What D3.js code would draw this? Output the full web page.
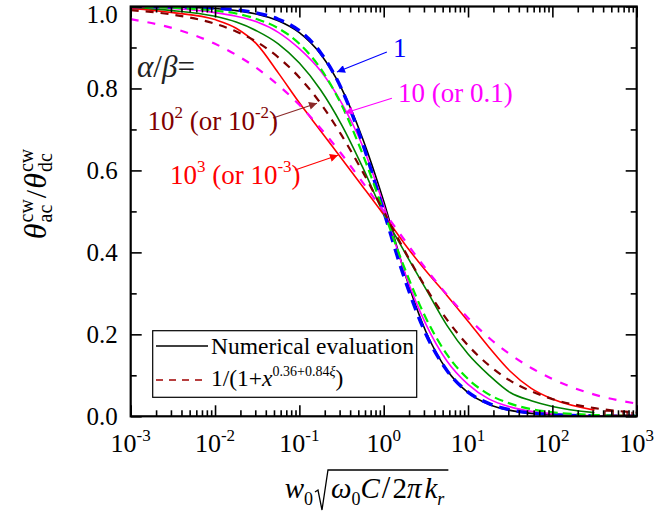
<!DOCTYPE html>
<html>
<head>
<meta charset="utf-8">
<script src="https://cdn.jsdelivr.net/npm/d3@7"></script>
<style>
  body { margin: 0; background: #fff; }
  text { font-family: "Liberation Serif", "Times New Roman", serif; }
</style>
</head>
<body>
<svg id="chart" width="655" height="522"></svg>
<script>
// Abscissa samples: w0*sqrt(w0*C/(2*pi*kr))
const xValues = [0.001, 0.00316, 0.01, 0.0178, 0.0316, 0.0562, 0.1, 0.178, 0.316, 0.562,
                 1, 1.78, 3.16, 5.62, 10, 17.8, 31.6, 56.2, 100, 316, 1000];

// Numerical evaluation (solid lines), one per alpha/beta ratio
const numRatio1    = [0.9996, 0.9986, 0.995, 0.990, 0.981, 0.965, 0.936, 0.884, 0.800, 0.678,
                      0.525, 0.349, 0.207, 0.113, 0.058, 0.029, 0.0145, 0.0071, 0.0035, 0.0008, 0.0002];
const numRatio10   = [0.998, 0.995, 0.985, 0.976, 0.962, 0.937, 0.897, 0.843, 0.765, 0.660,
                      0.515, 0.350, 0.225, 0.135, 0.078, 0.042, 0.023, 0.012, 0.006, 0.0015, 0.0004];
const numRatio100  = [0.996, 0.990, 0.976, 0.962, 0.940, 0.909, 0.862, 0.797, 0.712, 0.608,
                      0.494, 0.400, 0.311, 0.222, 0.152, 0.100, 0.058, 0.038, 0.024, 0.009, null];
const numRatio1000 = [0.995, 0.985, 0.968, 0.947, 0.907, 0.838, 0.765, 0.697, 0.629, 0.561,
                      0.492, 0.420, 0.355, 0.295, 0.232, 0.168, 0.110, 0.068, 0.042, 0.015, null];

// Fitted curves 1/(1+x^(0.36+0.84*xi)) (dashed lines)
const fitRatio1    = [0.9998, 0.999, 0.996, 0.992, 0.984, 0.969, 0.941, 0.888, 0.799, 0.666,
                      0.500, 0.334, 0.201, 0.112, 0.059, 0.031, 0.0156, 0.0079, 0.004, 0.001, 0.0002];
const fitRatio10   = [0.999, 0.997, 0.990, 0.983, 0.969, 0.947, 0.909, 0.849, 0.760, 0.640,
                      0.500, 0.360, 0.240, 0.151, 0.091, 0.053, 0.031, 0.0175, 0.0099, 0.0032, 0.001];
const fitRatio100  = [0.991, 0.980, 0.958, 0.939, 0.913, 0.876, 0.827, 0.764, 0.686, 0.597,
                      0.500, 0.403, 0.314, 0.236, 0.173, 0.124, 0.087, 0.061, 0.042, 0.020, 0.0091];
const fitRatio1000 = [0.969, 0.947, 0.909, 0.882, 0.849, 0.808, 0.760, 0.703, 0.640, 0.571,
                      0.500, 0.429, 0.360, 0.297, 0.240, 0.191, 0.151, 0.118, 0.091, 0.053, 0.031];

// Numerical noise of the 10^2 evaluation close to zero
const noiseX = [420, 420, 525, 525, 690, 690, 690, 770, 770, 770, 880, 880];
const noiseY = [0.002, 0.013, 0.013, 0.002, 0.002, 0.011, 0.002, 0.002, 0.011, 0.002, 0.002, 0.011];

// Axis ticks
const xTickExponents = [-3, -2, -1, 0, 1, 2, 3];
const yTickValues = [0, 0.2, 0.4, 0.6, 0.8, 1.0];
const yTickLabels = ["0.0", "0.2", "0.4", "0.6", "0.8", "1.0"];
const yMinorValues = [0.1, 0.3, 0.5, 0.7, 0.9];

// Legend entries
const legendLabels = ["Numerical evaluation", "1/(1+x^(0.36+0.84ξ))"];

const svg = d3.select("#chart");
const plot = { left: 130.7, right: 636.7, top: 6.5, bottom: 416.3 };

const x = d3.scaleLog().domain([1e-3, 1e3]).range([plot.left, plot.right]);
const y = d3.scaleLinear().domain([0, 1]).range([plot.bottom, plot.top]);

svg.append("defs").append("clipPath").attr("id", "plotClip")
  .append("rect")
  .attr("x", plot.left).attr("y", plot.top)
  .attr("width", plot.right - plot.left).attr("height", plot.bottom - plot.top);

// ---------- curves ----------
const line = d3.line()
  .defined(d => d[1] != null)
  .x(d => x(d[0]))
  .y(d => y(d[1]))
  .curve(d3.curveMonotoneX);

const series = [
  { values: numRatio1,    color: "#000000", width: 1.6, dash: null },
  { values: numRatio10,   color: "#ff00ff", width: 1.6, dash: null },
  { values: numRatio100,  color: "#008000", width: 1.6, dash: null },
  { values: numRatio1000, color: "#ff0000", width: 1.6, dash: null },
  { values: fitRatio1,    color: "#0000ff", width: 3.4, dash: "11,7" },
  { values: fitRatio10,   color: "#00ee00", width: 2.2, dash: "9,5" },
  { values: fitRatio100,  color: "#800000", width: 2.2, dash: "8,7" },
  { values: fitRatio1000, color: "#ff00ff", width: 2.2, dash: "8,9" }
];

const curves = svg.append("g").attr("clip-path", "url(#plotClip)");
series.forEach(s => {
  curves.append("path")
    .datum(xValues.map((xv, i) => [xv, s.values[i]]))
    .attr("fill", "none")
    .attr("stroke", s.color)
    .attr("stroke-width", s.width)
    .attr("stroke-dasharray", s.dash)
    .attr("d", line);
});

curves.append("path")
  .datum(noiseX.map((xv, i) => [xv, noiseY[i]]))
  .attr("fill", "none")
  .attr("stroke", "#800000")
  .attr("stroke-width", 1.4)
  .attr("d", d3.line().x(d => x(d[0])).y(d => y(d[1])));

// ---------- axes ----------
const xMajor = xTickExponents.map(e => Math.pow(10, e));
const xMinor = [];
for (let e = -3; e < 3; e++) for (let k = 2; k <= 9; k++) xMinor.push(k * Math.pow(10, e));

function tickGroup(axis, tx, ty) {
  svg.append("g")
    .attr("transform", `translate(${tx},${ty})`)
    .call(axis)
    .call(g => g.select(".domain").remove())
    .call(g => g.selectAll("line").attr("stroke", "#000").attr("stroke-width", 1.6))
    .call(g => g.selectAll("text").remove());
}
tickGroup(d3.axisBottom(x).tickValues(xMajor).tickSize(-11), 0, plot.bottom);
tickGroup(d3.axisBottom(x).tickValues(xMinor).tickSize(-6), 0, plot.bottom);
tickGroup(d3.axisTop(x).tickValues(xMajor).tickSize(-11), 0, plot.top);
tickGroup(d3.axisTop(x).tickValues(xMinor).tickSize(-6), 0, plot.top);
tickGroup(d3.axisLeft(y).tickValues(yTickValues).tickSize(-11), plot.left, 0);
tickGroup(d3.axisLeft(y).tickValues(yMinorValues).tickSize(-6), plot.left, 0);
tickGroup(d3.axisRight(y).tickValues(yTickValues).tickSize(-11), plot.right, 0);
tickGroup(d3.axisRight(y).tickValues(yMinorValues).tickSize(-6), plot.right, 0);

svg.append("rect")
  .attr("x", plot.left).attr("y", plot.top)
  .attr("width", plot.right - plot.left).attr("height", plot.bottom - plot.top)
  .attr("fill", "none").attr("stroke", "#000").attr("stroke-width", 2.2);

// y tick labels (top one kept inside the canvas)
svg.append("g").selectAll("text")
  .data(yTickValues)
  .join("text")
  .attr("x", plot.left - 13)
  .attr("y", d => Math.max(y(d), 14))
  .attr("dy", "0.36em")
  .attr("text-anchor", "end")
  .attr("font-size", 25)
  .text((d, i) => yTickLabels[i]);

// x tick labels: 10^e
const xLab = svg.append("g").selectAll("text")
  .data(xTickExponents)
  .join("text")
  .attr("x", e => x(Math.pow(10, e)))
  .attr("y", 452)
  .attr("text-anchor", "middle")
  .attr("font-size", 26);
xLab.append("tspan").text("10");
xLab.append("tspan").attr("font-size", 17).attr("dy", -11).text(e => e < 0 ? "-" + Math.abs(e) : String(e));

// ---------- helper for composed math labels ----------
function piece(parent, str, size, px, shift, italic) {
  const t = parent.append("text")
    .attr("x", px).attr("y", shift)
    .attr("font-size", size)
    .attr("font-style", italic ? "italic" : "normal")
    .text(str);
  return t.node().getComputedTextLength();
}

// y axis title: theta_ac^cw / theta_dc^cw
{
  const outer = svg.append("g").attr("transform", "translate(46,194) rotate(-90)");
  const g = outer.append("g");
  let cx = 0;
  cx += piece(g, "θ", 32, cx, 0, true) + 1;
  let a = piece(g, "cw", 20, cx, -13, false);
  let b = piece(g, "ac", 20, cx, 6, false);
  cx += Math.max(a, b) + 1;
  cx += piece(g, "/", 30, cx, 0, false) + 1;
  cx += piece(g, "θ", 32, cx, 0, true) + 1;
  a = piece(g, "cw", 20, cx, -13, false);
  b = piece(g, "dc", 20, cx, 6, false);
  cx += Math.max(a, b);
  g.attr("transform", `translate(${-cx / 2},0)`);
}

// x axis title: w0 sqrt(omega0 C / 2 pi k_r)
{
  const outer = svg.append("g").attr("transform", "translate(366.5,498)");
  const g = outer.append("g");
  let cx = 0;
  cx += piece(g, "w", 29, cx, 0, true);
  cx += piece(g, "0", 18, cx, 7, false) + 2;
  const r0 = cx;
  cx += 13;
  const o0 = cx;
  cx += 3;
  cx += piece(g, "ω", 29, cx, 0, true);
  cx += piece(g, "0", 18, cx, 7, false);
  cx += piece(g, "C", 29, cx, 0, true) + 2;
  cx += piece(g, "/", 31, cx, 0, false) + 2;
  cx += piece(g, "2", 29, cx, 0, false);
  cx += piece(g, "π", 29, cx, 0, true) + 3;
  cx += piece(g, "k", 29, cx, 0, true);
  cx += piece(g, "r", 18, cx, 7, true) + 4;
  g.append("path")
    .attr("d", `M${r0},${-6} L${r0 + 3},${-8} L${r0 + 7},${12} L${o0},${-28} L${cx},${-28}`)
    .attr("fill", "none").attr("stroke", "#000").attr("stroke-width", 1.3);
  g.attr("transform", `translate(${-cx / 2},0)`);
}

// ---------- annotations ----------
const defs = svg.select("defs");
function arrowMarker(id, color) {
  defs.append("marker")
    .attr("id", id).attr("viewBox", "0 0 10 10")
    .attr("refX", 10).attr("refY", 5)
    .attr("markerUnits", "userSpaceOnUse")
    .attr("markerWidth", 12).attr("markerHeight", 8)
    .attr("orient", "auto")
    .append("path").attr("d", "M0,0 L10,5 L0,10 Z").attr("fill", color);
}
const annotations = [
  { id: "a1",    color: "#0000ff", from: [1.09, 0.889],  to: [0.279, 0.840] },
  { id: "a10",   color: "#ff00ff", from: [1.25, 0.776],  to: [0.347, 0.740] },
  { id: "a100",  color: "#8b2a2a", from: [0.0486, 0.728], to: [0.162, 0.764] },
  { id: "a1000", color: "#ff0000", from: [0.0887, 0.601], to: [0.287, 0.637] }
];
annotations.forEach(a => {
  arrowMarker(a.id, a.color);
  svg.append("line")
    .attr("x1", x(a.from[0])).attr("y1", y(a.from[1]))
    .attr("x2", x(a.to[0])).attr("y2", y(a.to[1]))
    .attr("stroke", a.color).attr("stroke-width", 1.1)
    .attr("marker-end", `url(#${a.id})`);
});

// ratio labels
svg.append("text").attr("x", x(0.00119)).attr("y", y(0.828)).attr("font-size", 31).attr("fill", "#222")
  .call(t => {
    t.append("tspan").attr("font-style", "italic").text("α");
    t.append("tspan").text("/");
    t.append("tspan").attr("font-style", "italic").text("β");
    t.append("tspan").text("=");
  });

svg.append("text").attr("x", x(1.29)).attr("y", y(0.876)).attr("font-size", 27)
  .attr("fill", "#0000ff").text("1");
svg.append("text").attr("x", x(1.48)).attr("y", y(0.767)).attr("font-size", 27)
  .attr("fill", "#ff00ff").text("10 (or 0.1)");

function powerLabel(px, py, color, e) {
  const t = svg.append("text").attr("x", px).attr("y", py).attr("font-size", 27).attr("fill", color);
  t.append("tspan").text("10");
  t.append("tspan").attr("font-size", 17).attr("dy", -12).text(e);
  t.append("tspan").attr("font-size", 27).attr("dy", 12).text(" (or 10");
  t.append("tspan").attr("font-size", 17).attr("dy", -12).text("-" + e);
  t.append("tspan").attr("font-size", 27).attr("dy", 12).text(")");
}
powerLabel(x(0.00158), y(0.698), "#800000", "2");
powerLabel(x(0.00292), y(0.567), "#ff0000", "3");

// ---------- legend ----------
const lg = svg.append("g");
lg.append("rect").attr("x", 152.7).attr("y", 330.7).attr("width", 264).attr("height", 66.6)
  .attr("fill", "#fff").attr("stroke", "#000").attr("stroke-width", 1.2);
lg.append("line").attr("x1", 156).attr("x2", 208).attr("y1", 346).attr("y2", 346)
  .attr("stroke", "#000").attr("stroke-width", 1.6);
lg.append("text").attr("x", 211).attr("y", 354).attr("font-size", 23.5).text(legendLabels[0]);
lg.append("line").attr("x1", 156).attr("x2", 208).attr("y1", 380).attr("y2", 380)
  .attr("stroke", "#a00000").attr("stroke-width", 1.6).attr("stroke-dasharray", "7,6");
lg.append("text").attr("x", 211).attr("y", 386).attr("font-size", 23.5)
  .call(t => {
    t.append("tspan").text("1/(1+");
    t.append("tspan").attr("font-style", "italic").text("x");
    t.append("tspan").attr("font-size", 14).attr("dy", -10).text("0.36+0.84");
    t.append("tspan").attr("font-size", 14).attr("font-style", "italic").text("ξ");
    t.append("tspan").attr("font-size", 23.5).attr("dy", 10).text(")");
  });
</script>
</body>
</html>
